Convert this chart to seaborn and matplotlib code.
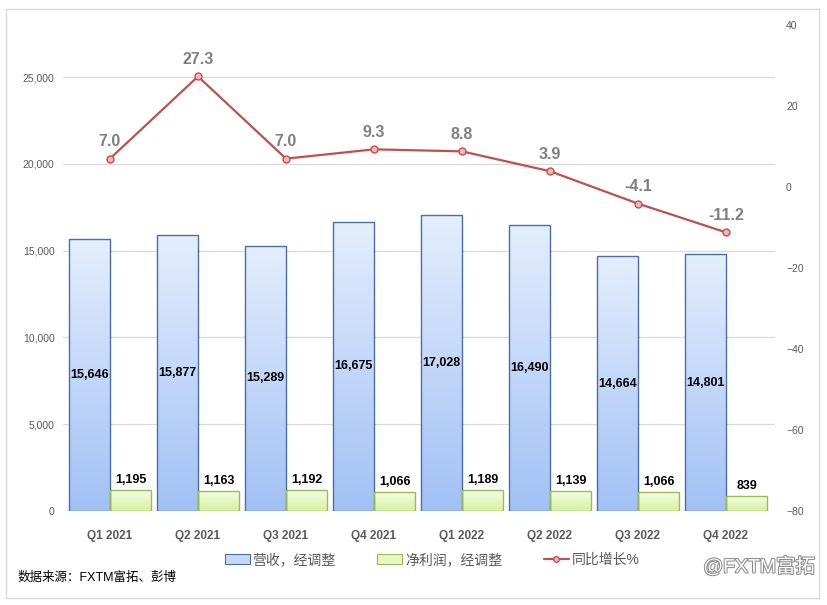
import numpy as np
import pandas as pd
import matplotlib
matplotlib.use("Agg")
import matplotlib.pyplot as plt
import matplotlib.patheffects as pe
from matplotlib.patches import Patch, Rectangle
from matplotlib.lines import Line2D
import seaborn as sns

quarters = ["Q1 2021", "Q2 2021", "Q3 2021", "Q4 2021", "Q1 2022", "Q2 2022", "Q3 2022", "Q4 2022"]
revenue = [15646, 15877, 15289, 16675, 17028, 16490, 14664, 14801]
profit = [1195, 1163, 1192, 1066, 1189, 1139, 1066, 839]
growth = [7.0, 27.3, 7.0, 9.3, 8.8, 3.9, -4.1, -11.2]
series_names = ["营收，经调整", "净利润，经调整", "同比增长%"]
left_ticks = [0, 5000, 10000, 15000, 20000, 25000]
right_ticks = [-80, -60, -40, -20, 0, 20, 40]
source_text = "数据来源：FXTM富拓、彭博"
watermark = "@FXTM富拓"

sns.set_theme(style="white")
plt.rcParams['font.family'] = ['Liberation Sans', 'Noto Sans CJK SC', 'DejaVu Sans']

W, H = 827, 605
fig = plt.figure(figsize=(W / 100, H / 100), dpi=100)
ax = fig.add_axes([63 / W, 1 - 511 / H, (775 - 63) / W, (511 - 25) / H])

df = pd.DataFrame({
    "quarter": quarters * 2,
    "value": revenue + profit,
    "series": [series_names[0]] * len(quarters) + [series_names[1]] * len(quarters),
})
blue_edge = "#4a6ea9"
green_edge = "#9bbb59"
sns.barplot(data=df, x="quarter", y="value", hue="series", order=quarters,
            hue_order=series_names[:2], palette=["#c5d9f8", "#e6f8c6"],
            width=0.94, gap=0, legend=False, ax=ax, zorder=3)

grads = [("#e4eefd", "#a2c1f5", blue_edge), ("#f7fde6", "#d3f1a0", green_edge)]
for ci, cont in enumerate(ax.containers):
    top, bot, edge = grads[ci]
    c1 = np.array(matplotlib.colors.to_rgb(top))
    c2 = np.array(matplotlib.colors.to_rgb(bot))
    t = np.linspace(0, 1, 256)[:, None]
    arr = (c1[None, :] * (1 - t) + c2[None, :] * t)[:, None, :]
    for bar in cont:
        bar.set_facecolor("none")
        bar.set_edgecolor(edge)
        bar.set_linewidth(1.0)
        x0, y0, w, h = bar.get_x(), bar.get_y(), bar.get_width(), bar.get_height()
        im = ax.imshow(arr, extent=(x0, x0 + w, y0, y0 + h), origin="upper",
                       aspect="auto", zorder=2.5, interpolation="bilinear")
        im.set_clip_path(bar)

# bar labels
for bar, v in zip(ax.containers[0], revenue):
    ax.text(bar.get_x() + bar.get_width() / 2, v / 2, f"{v:,}", ha="center", va="center",
            fontsize=9, fontweight="bold", color="black", zorder=5)
for bar, v in zip(ax.containers[1], profit):
    ax.annotate(f"{v:,}", (bar.get_x() + bar.get_width() / 2, v), xytext=(0, 3),
                textcoords="offset points", ha="center", va="bottom",
                fontsize=9, fontweight="bold", color="black", zorder=5)

ax.set_ylim(0, 28000)
ax.set_yticks(left_ticks)
ax.set_yticklabels([f"{v:,}" for v in left_ticks])
ax.yaxis.grid(True, color="#d9d9d9", linewidth=0.9, zorder=0)
ax.set_axisbelow(True)
ax.tick_params(axis="y", length=0, pad=6, labelsize=7.5, labelcolor="#595959")
ax.tick_params(axis="x", length=0, pad=14, labelsize=8.5, labelcolor="#595959")
for lab in ax.get_xticklabels():
    lab.set_fontweight("bold")
ax.set_xlabel("")
ax.set_ylabel("")
for s in ax.spines.values():
    s.set_visible(False)

ax2 = ax.twinx()
sns.lineplot(x=np.arange(len(quarters)), y=growth, ax=ax2, color="#c0504d", linewidth=1.6,
             marker="o", markersize=5, markerfacecolor="#f5b8b6", markeredgecolor="#c0504d",
             markeredgewidth=1.0, zorder=6)
for i, g in enumerate(growth):
    ax2.annotate(f"{g:.1f}", (i, g), xytext=(0, 12), textcoords="offset points",
                 ha="center", va="center", fontsize=11.5, fontweight="bold", color="#7f7f7f")
ax2.set_ylim(-80, 40)
ax2.set_yticks(right_ticks)
ax2.tick_params(axis="y", length=0, pad=8, labelsize=7.5, labelcolor="#595959")
ax2.set_ylabel("")
for s in ax2.spines.values():
    s.set_visible(False)
ax2.grid(False)

xl = (-0.534, 7.557)
ax.set_xlim(*xl)
ax2.set_xlim(*xl)

handles = [
    Patch(facecolor="#c5d9f8", edgecolor=blue_edge, linewidth=0.8),
    Patch(facecolor="#e6f8c6", edgecolor=green_edge, linewidth=0.8),
    Line2D([0], [0], color="#c0504d", linewidth=1.6, marker="o", markersize=4,
           markerfacecolor="#f5b8b6", markeredgecolor="#c0504d"),
]
fig.legend(handles, series_names, loc="center", bbox_to_anchor=(432 / W, 1 - 560 / H),
           ncol=3, frameon=False, fontsize=10, labelcolor="#595959",
           handlelength=1.8, handletextpad=0.2, columnspacing=3.0)

fig.text(18 / W, 1 - 578 / H, source_text, ha="left", va="center", fontsize=9, color="black")
fig.text(815 / W, 1 - 567 / H, watermark, ha="right", va="center", fontsize=14,
         color="white", path_effects=[pe.withStroke(linewidth=1.5, foreground="#8c8c8c")])

fig.patches.append(Rectangle((6 / W, 1 - 598 / H), 813 / W, 589 / H, transform=fig.transFigure,
                             fill=False, edgecolor="#d9d9d9", linewidth=1.0))

fig.savefig("out.png", dpi=100)
